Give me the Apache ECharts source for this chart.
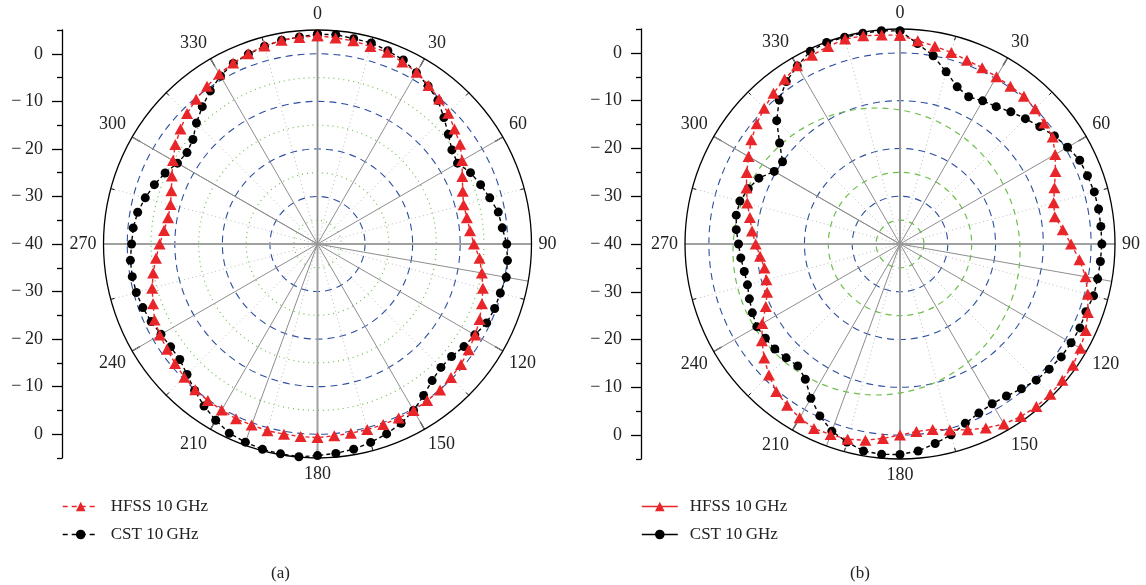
<!DOCTYPE html>
<html><head><meta charset="utf-8">
<style>html,body{margin:0;padding:0;background:#fff}#c{width:1146px;height:585px}</style>
<script src="https://cdn.jsdelivr.net/npm/echarts@6/dist/echarts.min.js"></script>
</head><body><div id="c"></div>
<script>
// ---- data ----
const angles = [0,5,10,15,20,25,30,35,40,45,50,55,60,65,70,75,80,85,
  90,95,100,105,110,115,120,125,130,135,140,145,150,155,160,165,170,175,
  180,185,190,195,200,205,210,215,220,225,230,235,240,245,250,255,260,265,
  270,275,280,285,290,295,300,305,310,315,320,325,330,335,340,345,350,355];
const hfssA = [3.8,3.5,3.4,3.0,2.9,2.2,1.7,0.7,-0.2,-1.1,-2.4,-3.4,-4.9,-6.4,-7.5,-8.2,-8.1,-7.8,
  -7.1,-5.8,-4.9,-4.0,-3.2,-2.4,-1.7,-1.2,-0.6,-0.3,0.1,0.2,0.4,0.4,0.4,0.4,0.4,0.5,
  0.7,0.65,0.6,0.65,0.5,0.55,0.3,0.2,0.0,-0.4,-0.9,-1.4,-1.7,-2.2,-3.2,-4.0,-4.9,-5.9,
  -6.8,-7.6,-8.1,-8.0,-7.3,-6.2,-4.9,-3.5,-2.4,-1.2,-0.3,0.5,1.3,2.0,2.6,3.1,3.5,3.6];
const cstA = [4.1,4.2,3.85,3.75,3.25,2.7,1.6,0.55,-0.6,-2.4,-4.1,-5.5,-6.0,-4.5,-3.5,-2.5,-1.4,-1.0,
  -0.2,0.1,0.3,-0.2,-0.35,-0.75,-1.8,-2.4,-3.2,-3.3,-2.5,-1.1,0.4,1.6,2.5,3.2,3.8,4.2,
  4.5,4.9,4.8,4.7,4.35,3.9,2.8,1.6,0.2,-1.2,-2.2,-2.3,-2.0,-1.4,-0.9,-0.55,-0.45,-0.5,
  -0.9,-1.1,-1.6,-2.5,-3.5,-4.65,-6.0,-6.5,-5.8,-4.0,-2.3,-0.7,0.8,1.9,2.5,3.05,3.5,3.7];
const hfssB = [3.7,2.7,2.05,1.5,0.95,0.7,0.4,0.3,0.35,0.0,-0.6,-1.0,-2.5,-4.1,-5.6,-6.7,-7.1,-5.8,
  -4.2,-2.3,-0.55,0.7,1.85,2.9,3.6,4.2,4.35,4.5,4.4,4.1,3.5,2.5,1.4,0.3,-0.6,-0.6,
  0.0,0.85,1.7,2.3,2.45,2.6,2.0,1.2,0.3,-1.2,-2.9,-4.7,-6.7,-9.0,-10.4,-11.05,-11.2,-10.6,
  -9.8,-8.9,-8.1,-6.9,-5.8,-4.6,-3.4,-2.0,-0.85,0.2,1.2,2.1,3.1,3.6,4.0,4.4,4.25,3.9];
const cstB = [4.6,2.1,0.0,-2.7,-5.0,-6.0,-5.4,-4.9,-3.9,-2.9,-1.8,-0.55,0.5,1.5,1.75,2.1,2.2,2.2,
  2.25,2.1,2.0,1.95,1.4,1.55,1.35,1.2,0.75,0.3,-0.45,-1.15,-1.4,-0.95,-0.05,1.35,2.4,3.5,
  4.05,4.2,4.0,2.9,1.7,-0.3,-2.7,-5.45,-6.7,-6.3,-5.8,-5.6,-5.4,-5.9,-6.45,-6.95,-6.9,-6.55,
  -6.2,-5.6,-5.2,-5.3,-6.2,-7.4,-9.6,-10.0,-7.1,-3.5,-0.65,1.5,3.0,4.5,4.9,4.8,4.8,4.8];
const angleLabels = [0,30,60,90,120,150,180,210,240,270,300,330];
const leftMajor = [-40,-30,-20,-10,0,10,20,30,40];   // shown as |v|-40 dB
const leftMinor = [-45,-35,-25,-15,-5,5,15,25,35,45];
const seriesNames = ['HFSS 10\u2009GHz','CST 10\u2009GHz'];
const captions = ['(a)','(b)'];
const rMin = -40, rMax = 5;

// ---- layout / style ----
const FONT = '"Liberation Serif","DejaVu Serif",serif';
const RED = '#e8262a', BLUE = '#2d4f9f', GREEN = '#6cbf4a';
const charts = [
  {cx:317.5, cy:244, R:214, axisX:62, legendX:62, capX:271, data:[hfssA,cstA], greenStyle:'dotted', legendSolid:false},
  {cx:900, cy:244, R:215, axisX:641, legendX:641, capX:850, data:[hfssB,cstB], greenStyle:'dashed', legendSolid:true,
   offsetCircle:{cx:876.5, cy:251.5, r:143.5}}
];

const polar=[], angleAxis=[], radiusAxis=[], series=[], grid=[], xAxis=[], yAxis=[], legend=[], title=[];
const hiddenRadius = (pi, min, max) => ({polarIndex:pi, type:'value', min:min, max:max,
  axisLine:{show:false}, axisTick:{show:false}, axisLabel:{show:false}, splitLine:{show:false}});
const hiddenAngle = (pi, extra) => Object.assign({polarIndex:pi, type:'value', min:0, max:360, startAngle:90, clockwise:true,
  axisLine:{show:false}, axisTick:{show:false}, axisLabel:{show:false}, splitLine:{show:false}}, extra||{});
const minus = v => v < 0 ? '\u2212\u2009' + Math.abs(v) : String(v);

charts.forEach((c, ci) => {
  const base = polar.length;
  const center = [c.cx, c.cy];
  // 0: data polar with angle axis
  polar.push({center:center, radius:c.R});
  angleAxis.push({polarIndex:base, type:'value', min:0, max:360, interval:30, startAngle:90, clockwise:true,
    axisLine:{show:true, lineStyle:{color:'#000', width:1.3}},
    axisTick:{show:true, inside:true, length:9, lineStyle:{color:'#000', width:1.3}},
    minorTick:{show:true, splitNumber:2, length:4, lineStyle:{color:'#000', width:1}},
    axisLabel:{show:true, margin:7, color:'#222', fontFamily:FONT, fontSize:18,
      formatter: v => angleLabels.indexOf(v) >= 0 ? String(v) : ''},
    splitLine:{show:true, lineStyle:{color:'#8e8e8e', width:1}},
    minorSplitLine:{show:true, lineStyle:{color:'#bdbdbd', width:1, type:[1,3]}}
  });
  radiusAxis.push(hiddenRadius(base, rMin, rMax));
  // 1: blue dB circles (-30..0) and green minor circles
  polar.push({center:center, radius:c.R*(0-rMin)/(rMax-rMin)});
  angleAxis.push(hiddenAngle(base+1));
  radiusAxis.push({polarIndex:base+1, type:'value', min:-40, max:0, interval:10,
    axisLine:{show:false}, axisTick:{show:false}, axisLabel:{show:false},
    splitLine:{show:true, lineStyle:{color:BLUE, width:1.1, type:[7,5]}},
    minorTick:{show:false, splitNumber:2},
    minorSplitLine:{show: c.greenStyle==='dotted', lineStyle:{color:GREEN, width:1.2, type:[1,4]}}});
  // 2: cardinal lines
  polar.push({center:center, radius:c.R});
  angleAxis.push(hiddenAngle(base+2, {interval:90, splitLine:{show:true, lineStyle:{color:'#a0a0a0', width:2}}}));
  radiusAxis.push(hiddenRadius(base+2, rMin, rMax));
  // 3: extra radial lines (100, 200)
  polar.push({center:center, radius:c.R});
  angleAxis.push(hiddenAngle(base+3, {interval:100, splitLine:{show:true, lineStyle:{color:'#8e8e8e', width:1}}}));
  radiusAxis.push(hiddenRadius(base+3, rMin, rMax));
  if (c.greenStyle === 'dashed') {
    // green dashed circles at -35, -25
    polar.push({center:center, radius:c.R*(-20-rMin)/(rMax-rMin)});
    angleAxis.push(hiddenAngle(polar.length-1));
    radiusAxis.push({polarIndex:polar.length-1, type:'value', min:-40, max:-20, interval:10,
      axisLine:{show:false}, axisTick:{show:false}, axisLabel:{show:false}, splitLine:{show:false},
      minorTick:{show:false, splitNumber:2},
      minorSplitLine:{show:true, lineStyle:{color:GREEN, width:1.2, type:[6,5]}}});
    // offset green circle
    const o = c.offsetCircle;
    polar.push({center:[o.cx, o.cy], radius:o.r});
    angleAxis.push(hiddenAngle(polar.length-1, {axisLine:{show:true, lineStyle:{color:GREEN, width:1.2, type:[6,5]}}}));
    radiusAxis.push(hiddenRadius(polar.length-1, 0, 1));
  }
  // series
  const mk = (vals) => angles.map((a, i) => [vals[i], a]).concat([[vals[0], 360]]);
  series.push({name:seriesNames[0], type:'line', coordinateSystem:'polar', polarIndex:base, z:5,
    data:mk(c.data[0]), symbol:'triangle', symbolSize:[12,11], itemStyle:{color:RED},
    lineStyle:{color:RED, width:1.4, type:[4,3]}, animation:false});
  series.push({name:seriesNames[1], type:'line', coordinateSystem:'polar', polarIndex:base, z:4,
    data:mk(c.data[1]), symbol:'circle', symbolSize:9, itemStyle:{color:'#000'},
    lineStyle:{color:'#000', width:1.4, type:[4,3]}, animation:false});
  // left dB axis
  const top = c.cy - c.R;
  grid.push({left:c.axisX, top:top, width:1, height:2*c.R});
  xAxis.push({gridIndex:ci, type:'value', min:0, max:1, show:false});
  yAxis.push({gridIndex:ci, type:'value', min:-45, max:45, position:'left',
    axisLine:{show:true, lineStyle:{color:'#000', width:1.3}},
    axisTick:{show:true, customValues:leftMajor, length:10, lineStyle:{color:'#000', width:1.3}},
    axisLabel:{show:true, customValues:leftMajor, margin:19, color:'#222', fontFamily:FONT, fontSize:18,
      formatter: v => minus(Math.abs(v) - 40)},
    splitLine:{show:false}});
  yAxis.push({gridIndex:ci, type:'value', min:-45, max:45, position:'left',
    axisLine:{show:false},
    axisTick:{show:true, customValues:leftMinor, length:5, lineStyle:{color:'#000', width:1.3}},
    axisLabel:{show:false}, splitLine:{show:false}});
  // legend
  const lsty = c.legendSolid ? {type:'solid', width:1.6} : {type:[5,4], width:1.4};
  legend.push({orient:'vertical', left:c.legendX, top:498, padding:0, itemWidth:36, itemHeight:12, itemGap:11,
    textStyle:{fontFamily:FONT, fontSize:17, color:'#222', padding:[0,0,0,7]},
    data: seriesNames.map(n => ({name:n, lineStyle:lsty}))});
  title.push({text:captions[ci], left:c.capX, top:565, padding:0,
    textStyle:{fontFamily:FONT, fontSize:17, fontWeight:'normal', color:'#222'}});
});

const chart = echarts.init(document.getElementById('c'), null, {renderer:'canvas'});
chart.setOption({animation:false, backgroundColor:'#fff', title, legend, polar, angleAxis, radiusAxis, grid, xAxis, yAxis, series});
</script></body></html>
